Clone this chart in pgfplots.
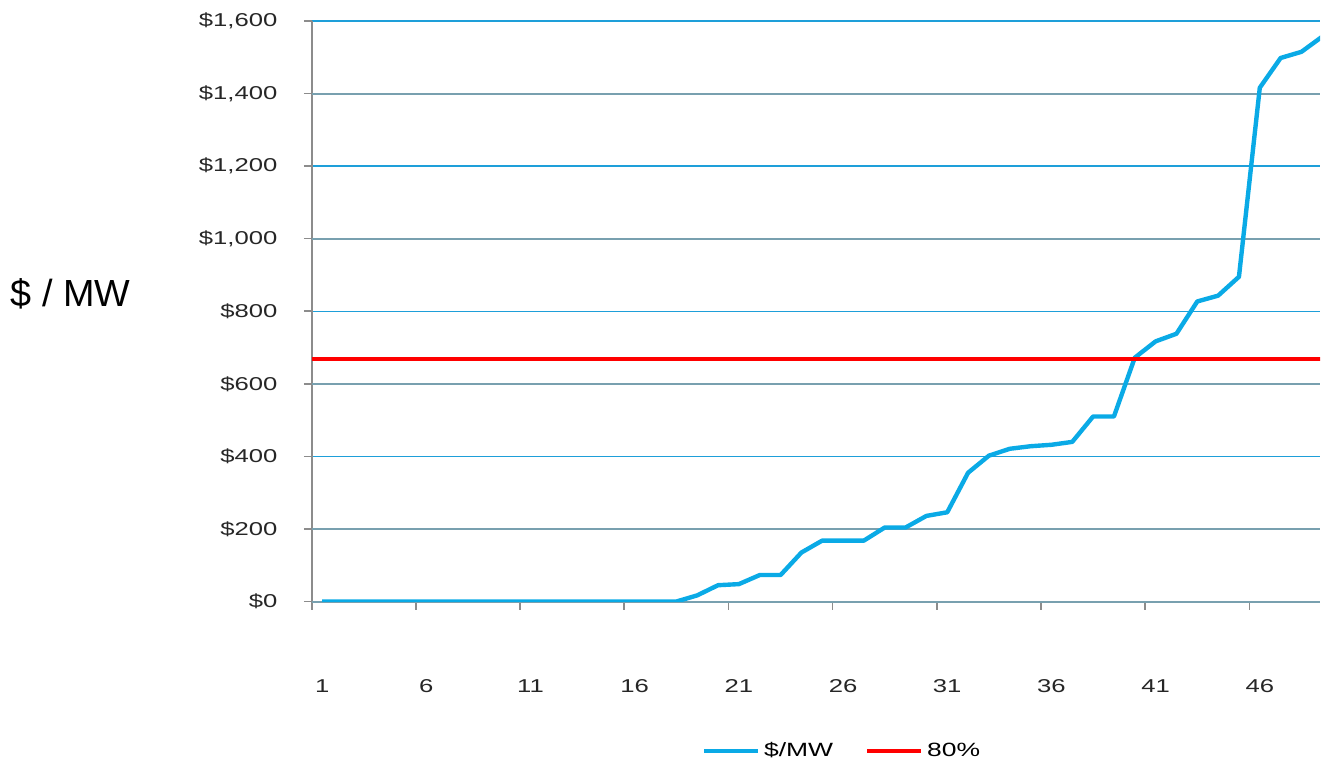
\documentclass[border=0pt]{standalone}
\usepackage{fontspec}
\setmainfont{Liberation Sans}
\usepackage{graphicx}
\usepackage{pgfplots}
\pgfplotsset{compat=1.18}
\definecolor{lineblue}{HTML}{0AAAE6}
\definecolor{gridblue}{HTML}{1E9FD9}
\definecolor{gridgrey}{HTML}{78A0AF}
\definecolor{axisgrey}{HTML}{8C8C8C}
\newcommand{\sx}[1]{\scalebox{1.38}[1]{#1}}
\begin{document}
\begin{tikzpicture}
\begin{axis}[
  /pgf/number format/assume math mode=true,
  scale only axis, width=504.5pt, height=290.5pt,
  xmin=0.5, xmax=48.89, ymin=0, ymax=1600,
  axis x line*=bottom, axis y line*=left,
  axis line style={axisgrey, line width=0.8pt, -},
  tick style={axisgrey, line width=0.8pt},
  tick align=outside, major tick length=4pt,
  xtick={0.5,5.5,...,45.5},
  xticklabel={\pgfmathtruncatemacro{\lab}{\tick+0.5}\sx{\textnormal{\lab}}},
  xticklabel style={anchor=north, inner sep=0pt, xshift=5.2pt, yshift=-35pt, font=\fontsize{9.3}{11}\selectfont, text=black!85},
  ytick={400,800,1200,1600},
  extra y ticks={0,200,600,1000,1400},
  extra y tick style={grid=major, major grid style={gridgrey, line width=1pt}},
  ymajorgrids, major grid style={gridblue, line width=0.7pt},
  yticklabel={\sx{\textnormal{\$\pgfmathprintnumber[fixed,precision=0,1000 sep={,},assume math mode=true]{\tick}}}},
  yticklabel style={anchor=east, inner sep=0pt, xshift=-13pt, font=\fontsize{9.3}{11}\selectfont, text=black!85},
  ylabel={\$ / MW},
  ylabel style={rotate=-90, at={(axis description cs:-0.2393,0.530)}, anchor=center, font=\fontsize{18.9}{22}\selectfont},
  legend columns=2,
  legend style={at={(axis description cs:0.527,-0.258)}, anchor=center, draw=none, fill=none, font=\fontsize{9.6}{11}\selectfont, /tikz/every even column/.append style={column sep=14pt}},
  legend image code/.code={\draw[#1, line width=2pt] (0,0) -- (27pt,0);},
  clip=true,
]
\addplot[lineblue, line width=2.2pt, line join=round] coordinates {
(1,0)(2,0)(3,0)(4,0)(5,0)(6,0)(7,0)(8,0)(9,0)(10,0)(11,0)(12,0)(13,0)(14,0)(15,0)(16,0)(17,0)(18,0)
(19,17)(20,45)(21,48)(22,73)(23,73)(24,135)(25,168)(26,168)(27,168)(28,204)(29,204)(30,236)(31,246)
(32,355)(33,402)(34,421)(35,428)(36,432)(37,440)(38,510)(39,510)(40,672)(41,717)(42,738)(43,827)(44,843)(45,895)
(46,1416)(47,1498)(48,1515)(49,1557)};
\addlegendentry{\sx{\$/MW}}
\addplot[red, line width=2pt] coordinates {(0.5,668)(49.5,668)};
\addlegendentry{\sx{80\%}}
\end{axis}
\path[use as bounding box] ([xshift=-156pt,yshift=-80pt]current axis.south west) rectangle ([yshift=10.5pt]current axis.north east);
\end{tikzpicture}
\end{document}
